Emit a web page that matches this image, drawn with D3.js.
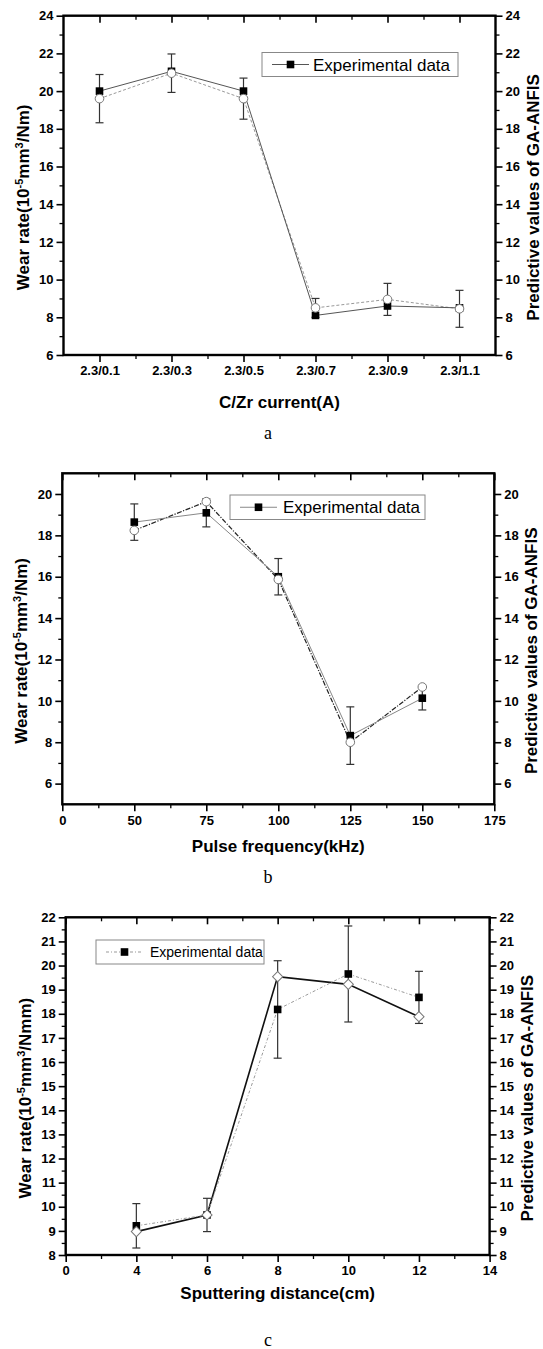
<!DOCTYPE html>
<html>
<head>
<meta charset="utf-8">
<script src="https://cdn.jsdelivr.net/npm/d3@7"></script>
<style>
  body { margin: 0; background: #fff; }
  svg text { font-family: 'Liberation Sans', Arial, sans-serif; }
</style>
</head>
<body>
<script>
// panel a: C/Zr current
const currentLabels = ['2.3/0.1', '2.3/0.3', '2.3/0.5', '2.3/0.7', '2.3/0.9', '2.3/1.1'];
const currentIndex = [1, 2, 3, 4, 5, 6];
const wearA = [20.0, 21.05, 20.0, 8.1, 8.6, 8.5];
const predA = [19.6, 20.95, 19.6, 8.5, 8.95, 8.45];
const errA = [1.28, 1.02, 1.09, 0.5, 0.85, 0.98];
const yTicksA = [6, 8, 10, 12, 14, 16, 18, 20, 22, 24];

// panel b: pulse frequency
const freqB = [50, 75, 100, 125, 150];
const wearB = [18.64, 19.09, 16.0, 8.32, 10.13];
const predB = [18.24, 19.63, 15.87, 8.0, 10.67];
const errB = [0.88, 0.68, 0.88, 1.39, 0.57];
const xTicksB = [25, 50, 75, 100, 125, 150, 175];
const xTickLabelsB = ['0', '50', '75', '100', '125', '150', '175'];
const yTicksB = [6, 8, 10, 12, 14, 16, 18, 20];

// panel c: sputtering distance
const distC = [4, 6, 8, 10, 12];
const wearC = [9.21, 9.66, 18.18, 19.65, 18.68];
const predC = [8.97, 9.66, 19.54, 19.22, 17.88];
const errC = [0.92, 0.69, 2.02, 1.99, 1.08];
const xTicksC = [2, 4, 6, 8, 10, 12, 14];
const xTickLabelsC = ['0', '4', '6', '8', '10', '12', '14'];
const yTicksC = [8, 9, 10, 11, 12, 13, 14, 15, 16, 17, 18, 19, 20, 21, 22];

const svg = d3.select('body')
  .append('svg')
  .attr('width', 543)
  .attr('height', 1349);

svg.append('rect')
  .attr('width', 543)
  .attr('height', 1349)
  .attr('fill', '#fff');

const mids = v => v.slice(1).map((d, i) => (d + v[i]) / 2);

function styleAxis(sel, w) {
  sel.select('.domain').remove();
  sel.selectAll('.tick line').attr('stroke', '#000').attr('stroke-width', w);
  sel.selectAll('.tick text')
    .attr('fill', '#000')
    .style('font-size', '13px')
    .style('font-weight', 'bold');
}

function drawPanel(p) {
  const x = d3.scaleLinear().domain(p.xDomain).range([p.left, p.right]);
  const y = d3.scaleLinear().domain(p.yDomain).range([p.bottom, p.top]);
  const g = svg.append('g');

  const xMinor = mids(p.xTicks);
  const yMinor = p.yMinor;

  // major ticks with labels
  g.append('g')
    .attr('transform', `translate(0,${p.bottom})`)
    .call(d3.axisBottom(x).tickValues(p.xTicks).tickSize(7).tickPadding(4)
      .tickFormat((d, i) => p.xLabels[i]))
    .call(s => styleAxis(s, 1.6));
  g.append('g')
    .attr('transform', `translate(0,${p.top})`)
    .call(d3.axisBottom(x).tickValues(p.xTicks).tickSize(7).tickFormat(''))
    .call(s => styleAxis(s, 1.6));
  g.append('g')
    .attr('transform', `translate(${p.left},0)`)
    .call(d3.axisLeft(y).tickValues(p.yTicks).tickSize(7).tickPadding(3))
    .call(s => styleAxis(s, 1.6));
  g.append('g')
    .attr('transform', `translate(${p.right},0)`)
    .call(d3.axisRight(y).tickValues(p.yTicks).tickSize(7).tickPadding(3))
    .call(s => styleAxis(s, 1.6));

  // minor ticks
  g.append('g')
    .attr('transform', `translate(0,${p.bottom})`)
    .call(d3.axisBottom(x).tickValues(xMinor).tickSize(4).tickFormat(''))
    .call(s => styleAxis(s, 1.3));
  g.append('g')
    .attr('transform', `translate(0,${p.top})`)
    .call(d3.axisBottom(x).tickValues(xMinor).tickSize(4).tickFormat(''))
    .call(s => styleAxis(s, 1.3));
  g.append('g')
    .attr('transform', `translate(${p.left},0)`)
    .call(d3.axisLeft(y).tickValues(yMinor).tickSize(4).tickFormat(''))
    .call(s => styleAxis(s, 1.3));
  g.append('g')
    .attr('transform', `translate(${p.right},0)`)
    .call(d3.axisRight(y).tickValues(yMinor).tickSize(4).tickFormat(''))
    .call(s => styleAxis(s, 1.3));

  g.append('rect')
    .attr('x', p.left)
    .attr('y', p.top)
    .attr('width', p.right - p.left)
    .attr('height', p.bottom - p.top)
    .attr('fill', 'none')
    .attr('stroke', '#000')
    .attr('stroke-width', 2.4);

  const rows = p.xs.map((d, i) => ({ x: d, wear: p.wear[i], pred: p.pred[i], err: p.err[i] }));

  const wearLine = d3.line().x(d => x(d.x)).y(d => y(d.wear));
  const predLine = d3.line().x(d => x(d.x)).y(d => y(d.pred));

  g.append('path')
    .attr('d', predLine(rows))
    .attr('fill', 'none')
    .attr('stroke', p.predStroke)
    .attr('stroke-width', p.predWidth)
    .attr('stroke-dasharray', p.predDash);

  g.append('path')
    .attr('d', wearLine(rows))
    .attr('fill', 'none')
    .attr('stroke', p.wearStroke)
    .attr('stroke-width', p.wearWidth)
    .attr('stroke-dasharray', p.wearDash);

  // error bars
  const ev = d => p.errOn === 'pred' ? d.pred : d.wear;
  const eb = g.append('g').attr('stroke', '#333').attr('stroke-width', 1.2);
  eb.selectAll('.stem')
    .data(rows)
    .join('line')
    .attr('x1', d => x(d.x)).attr('x2', d => x(d.x))
    .attr('y1', d => y(ev(d) - d.err)).attr('y2', d => y(ev(d) + d.err));
  eb.selectAll('.capTop')
    .data(rows)
    .join('line')
    .attr('x1', d => x(d.x) - 4).attr('x2', d => x(d.x) + 4)
    .attr('y1', d => y(ev(d) + d.err)).attr('y2', d => y(ev(d) + d.err));
  eb.selectAll('.capBot')
    .data(rows)
    .join('line')
    .attr('x1', d => x(d.x) - 4).attr('x2', d => x(d.x) + 4)
    .attr('y1', d => y(ev(d) - d.err)).attr('y2', d => y(ev(d) - d.err));

  g.selectAll('.sq')
    .data(rows)
    .join('rect')
    .attr('x', d => x(d.x) - 3.8)
    .attr('y', d => y(d.wear) - 3.8)
    .attr('width', 7.6)
    .attr('height', 7.6)
    .attr('fill', '#000');

  if (p.predShape === 'diamond') {
    g.selectAll('.dm')
      .data(rows)
      .join('path')
      .attr('d', d3.symbol().type(d3.symbolSquare).size(52))
      .attr('transform', d => `translate(${x(d.x)},${y(d.pred)}) rotate(45)`)
      .attr('fill', '#fff')
      .attr('stroke', '#777')
      .attr('stroke-width', 1);
  } else {
    g.selectAll('.ci')
      .data(rows)
      .join('circle')
      .attr('cx', d => x(d.x))
      .attr('cy', d => y(d.pred))
      .attr('r', 4.3)
      .attr('fill', '#fff')
      .attr('stroke', '#777')
      .attr('stroke-width', 1);
  }

  // legend
  const lg = p.legend;
  g.append('rect')
    .attr('x', lg.x).attr('y', lg.y)
    .attr('width', lg.w).attr('height', lg.h)
    .attr('fill', '#fff')
    .attr('stroke', '#888')
    .attr('stroke-width', 1);
  g.append('line')
    .attr('x1', lg.x + 10).attr('x2', lg.x + 47)
    .attr('y1', lg.y + lg.h / 2).attr('y2', lg.y + lg.h / 2)
    .attr('stroke', p.wearStroke)
    .attr('stroke-width', 1)
    .attr('stroke-dasharray', p.wearDash);
  g.append('rect')
    .attr('x', lg.x + 28.5 - 3.8).attr('y', lg.y + lg.h / 2 - 3.8)
    .attr('width', 7.6).attr('height', 7.6)
    .attr('fill', '#000');
  g.append('text')
    .attr('x', lg.x + lg.tx)
    .attr('y', lg.y + lg.h / 2)
    .attr('dy', '0.36em')
    .style('font-size', lg.fs + 'px')
    .text('Experimental data');

  // axis titles
  const midY = (p.top + p.bottom) / 2 + 12;
  const lt = g.append('text')
    .attr('transform', `translate(${p.left - 41},${midY}) rotate(-90)`)
    .attr('text-anchor', 'middle')
    .attr('dy', '0.36em')
    .style('font-size', '17px')
    .style('font-weight', 'bold');
  lt.append('tspan').text('Wear rate(10');
  lt.append('tspan').attr('baseline-shift', 'super').style('font-size', '11px').text('-5');
  lt.append('tspan').text('mm');
  lt.append('tspan').attr('baseline-shift', 'super').style('font-size', '11px').text('3');
  lt.append('tspan').text(p.unit);

  g.append('text')
    .attr('transform', `translate(${p.right + 37},${midY}) rotate(-90)`)
    .attr('text-anchor', 'middle')
    .attr('dy', '0.36em')
    .style('font-size', '17px')
    .style('font-weight', 'bold')
    .text('Predictive values of GA-ANFIS');

  g.append('text')
    .attr('x', (p.left + p.right) / 2)
    .attr('y', p.bottom + p.titleGap)
    .attr('text-anchor', 'middle')
    .style('font-size', '17px')
    .style('font-weight', 'bold')
    .text(p.xTitle);

  g.append('text')
    .attr('x', 268)
    .attr('y', p.captionY)
    .attr('text-anchor', 'middle')
    .style('font-family', "'Liberation Serif', 'Times New Roman', serif")
    .style('font-size', '18px')
    .text(p.caption);
}

drawPanel({
  left: 63.5, right: 495.5, top: 15.7, bottom: 355,
  xDomain: [0.5, 6.5], xTicks: currentIndex, xLabels: currentLabels, xs: currentIndex,
  yDomain: [6, 24], yTicks: yTicksA, yMinor: mids(yTicksA),
  wear: wearA, pred: predA, err: errA, errOn: 'pred',
  wearStroke: '#555', wearWidth: 1, wearDash: null,
  predStroke: '#999', predWidth: 1, predDash: '3,2',
  predShape: 'circle',
  legend: { x: 262, y: 52.5, w: 196, h: 24, tx: 51, fs: 17 },
  unit: '/Nm)', xTitle: 'C/Zr current(A)', titleGap: 53, captionY: 439, caption: 'a'
});

drawPanel({
  left: 62.3, right: 494.3, top: 473.3, bottom: 804.3,
  xDomain: [25, 175], xTicks: xTicksB, xLabels: xTickLabelsB, xs: freqB,
  yDomain: [5, 21], yTicks: yTicksB, yMinor: mids(yTicksB),
  wear: wearB, pred: predB, err: errB, errOn: 'wear',
  wearStroke: '#888', wearWidth: 1, wearDash: null,
  predStroke: '#222', predWidth: 1.2, predDash: '5,1.5,1.2,1.5',
  predShape: 'circle',
  legend: { x: 230, y: 495, w: 195, h: 24.5, tx: 53, fs: 17 },
  unit: '/Nm)', xTitle: 'Pulse frequency(kHz)', titleGap: 48, captionY: 883, caption: 'b'
});

drawPanel({
  left: 65.7, right: 489.6, top: 917.3, bottom: 1255,
  xDomain: [2, 14], xTicks: xTicksC, xLabels: xTickLabelsC, xs: distC,
  yDomain: [8, 22], yTicks: yTicksC, yMinor: mids(yTicksC),
  wear: wearC, pred: predC, err: errC, errOn: 'wear',
  wearStroke: '#999', wearWidth: 1, wearDash: '3,2,1,2',
  predStroke: '#111', predWidth: 1.6, predDash: null,
  predShape: 'diamond',
  legend: { x: 96, y: 940, w: 168, h: 24, tx: 54, fs: 14 },
  unit: '/Nmm)', xTitle: 'Sputtering distance(cm)', titleGap: 44, captionY: 1346, caption: 'c'
});
</script>
</body>
</html>
